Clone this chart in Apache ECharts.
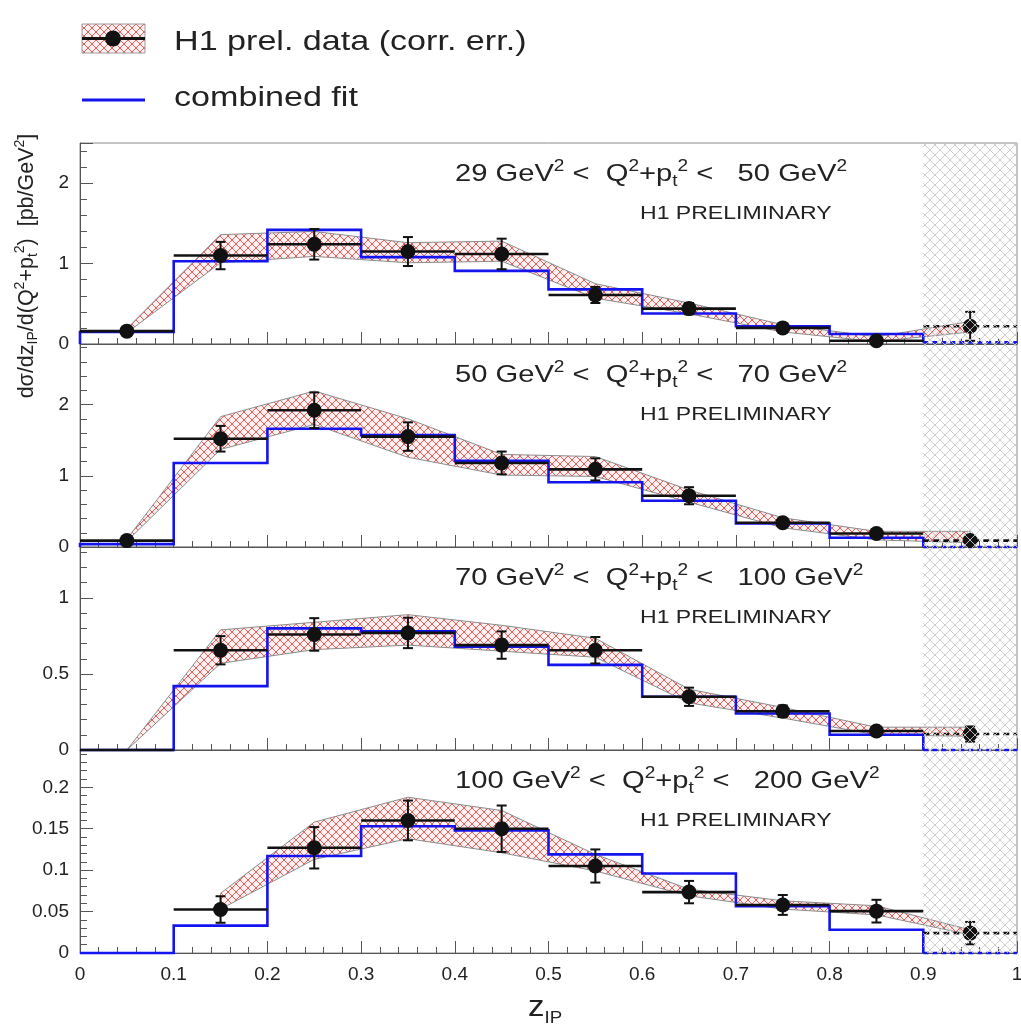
<!DOCTYPE html>
<html><head><meta charset="utf-8">
<script src="https://cdn.jsdelivr.net/npm/echarts@6/dist/echarts.min.js"></script>
<style>html,body{margin:0;padding:0;background:#fff}#c{width:1021px;height:1026px}</style>
</head><body><div id="c"></div>
<script>
// ---------- data ----------
const zBinEdges = [0, 0.1, 0.2, 0.3, 0.4, 0.5, 0.6, 0.7, 0.8, 0.9, 1.0];
const zBinCenters = [0.05, 0.15, 0.25, 0.35, 0.45, 0.55, 0.65, 0.75, 0.85, 0.95];
const excludedRegion = [0.9, 1.0];
const q2Low = ['29', '50', '70', '100'];
const q2High = ['50', '70', '100', '200'];
const yAxisMax = [2.5, 2.85, 1.335, 0.245];
const yAxisInterval = [1, 1, 0.5, 0.05];

const data_29_50   = [0.16, 1.10, 1.24, 1.15, 1.12, 0.61, 0.44, 0.20, 0.04, 0.22];
const err_29_50    = [0.02, 0.17, 0.19, 0.18, 0.19, 0.10, 0.07, 0.03, 0.03, 0.18];
const bandLo_29_50 = [0.14, 1.01, 1.09, 1.01, 1.03, 0.57, 0.375, 0.15, 0.03, 0.15];
const bandHi_29_50 = [0.19, 1.36, 1.40, 1.26, 1.28, 0.75, 0.51, 0.24, 0.09, 0.28];
const fit_29_50    = [0.15, 1.03, 1.42, 1.08, 0.91, 0.68, 0.38, 0.22, 0.125, 0.02];

const data_50_70   = [0.09, 1.52, 1.92, 1.55, 1.18, 1.09, 0.72, 0.34, 0.19, 0.09];
const err_50_70    = [0.02, 0.18, 0.25, 0.20, 0.16, 0.155, 0.12, 0.05, 0.06, 0.04];
const bandLo_50_70 = [0.08, 1.37, 1.72, 1.26, 1.01, 0.99, 0.63, 0.27, 0.10, 0.06];
const bandHi_50_70 = [0.11, 1.83, 2.19, 1.80, 1.30, 1.27, 0.80, 0.41, 0.22, 0.22];
const fit_50_70    = [0.04, 1.18, 1.66, 1.57, 1.21, 0.91, 0.65, 0.33, 0.13, 0.0];

const data_70_100   = [0, 0.656, 0.76, 0.77, 0.69, 0.656, 0.35, 0.255, 0.125, 0.105];
const err_70_100    = [0, 0.093, 0.107, 0.10, 0.09, 0.087, 0.06, 0.038, 0.02, 0.05];
const bandLo_70_100 = [0, 0.57, 0.66, 0.69, 0.65, 0.61, 0.31, 0.21, 0.10, 0.09];
const bandHi_70_100 = [0, 0.79, 0.84, 0.89, 0.82, 0.735, 0.40, 0.28, 0.15, 0.15];
const fit_70_100    = [0, 0.42, 0.80, 0.78, 0.68, 0.56, 0.35, 0.24, 0.10, 0.0];

const data_100_200   = [null, 0.0525, 0.127, 0.160, 0.150, 0.105, 0.0735, 0.058, 0.0505, 0.024];
const err_100_200    = [null, 0.016, 0.025, 0.024, 0.028, 0.020, 0.0135, 0.012, 0.0137, 0.0135];
const bandLo_100_200 = [null, 0.053, 0.113, 0.138, 0.121, 0.099, 0.069, 0.053, 0.046, 0.022];
const bandHi_100_200 = [null, 0.072, 0.158, 0.188, 0.172, 0.119, 0.077, 0.063, 0.057, 0.028];
const fit_100_200    = [0, 0.033, 0.117, 0.153, 0.148, 0.119, 0.096, 0.0566, 0.028, 0.0];

const panels = [
  {data: data_29_50, err: err_29_50, lo: bandLo_29_50, hi: bandHi_29_50, fit: fit_29_50},
  {data: data_50_70, err: err_50_70, lo: bandLo_50_70, hi: bandHi_50_70, fit: fit_50_70},
  {data: data_70_100, err: err_70_100, lo: bandLo_70_100, hi: bandHi_70_100, fit: fit_70_100},
  {data: data_100_200, err: err_100_200, lo: bandLo_100_200, hi: bandHi_100_200, fit: fit_100_200}
];

// ---------- layout / style ----------
const FONT = '"Liberation Sans", Arial, Helvetica, sans-serif';
const BLUE = '#1414ee';
const BLACK = '#111';
const gridTops = [143, 344, 547, 750];
const gridHeights = [201, 203, 203, 203];

function makePattern(size, color, bg, lw) {
  const c = document.createElement('canvas');
  c.width = size; c.height = size;
  const g = c.getContext('2d');
  if (bg) { g.fillStyle = bg; g.fillRect(0, 0, size, size); }
  g.strokeStyle = color; g.lineWidth = lw;
  g.beginPath();
  g.moveTo(-1, -1); g.lineTo(size + 1, size + 1);
  g.moveTo(size + 1, -1); g.lineTo(-1, size + 1);
  g.stroke();
  return {image: c, repeat: 'repeat'};
}
const redHatch = makePattern(8, '#e85c5c', '#fff0f0', 1);
const grayHatch = makePattern(10, '#c9c9c9', null, 0.9);

const grids = [], xAxes = [], yAxes = [], series = [];
panels.forEach((p, i) => {
  const last = i === panels.length - 1;
  grids.push({left: 80, right: 4, top: gridTops[i], height: gridHeights[i],
    show: true, borderColor: '#8a8a8a', borderWidth: 1, backgroundColor: 'transparent',
    containLabel: false, outerBoundsMode: 'none'});
  xAxes.push({type: 'value', gridIndex: i, min: 0, max: 1, interval: 0.1,
    axisLine: {show: true, onZero: false, lineStyle: {color: '#555', width: 1}},
    axisTick: {show: true, inside: true, length: 12, lineStyle: {color: '#555'}},
    minorTick: {show: true, splitNumber: 5, length: 6, lineStyle: {color: '#555'}},
    splitLine: {show: false}, minorSplitLine: {show: false},
    axisLabel: {show: last, fontSize: 19, fontFamily: FONT, color: '#222', margin: 12,
      formatter: v => String(+v.toFixed(1))}
  });
  yAxes.push({type: 'value', gridIndex: i, min: 0, max: yAxisMax[i], interval: yAxisInterval[i],
    axisLine: {show: true, lineStyle: {color: '#555', width: 1}},
    axisTick: {show: true, inside: true, length: 13, lineStyle: {color: '#555'}},
    minorTick: {show: true, splitNumber: 5, length: 7, lineStyle: {color: '#555'}},
    splitLine: {show: false}, minorSplitLine: {show: false},
    axisLabel: {fontSize: 19, fontFamily: FONT, color: '#222', margin: 11, showMaxLabel: false,
      formatter: v => String(+v.toFixed(3))}
  });

  // error band
  series.push({type: 'custom', xAxisIndex: i, yAxisIndex: i, z: 2, data: [[0, 0]], silent: true,
    renderItem: (params, api) => {
      const pts = [];
      for (let k = 0; k < zBinCenters.length; k++) if (p.hi[k] != null) pts.push(api.coord([zBinCenters[k], p.hi[k]]));
      for (let k = zBinCenters.length - 1; k >= 0; k--) if (p.lo[k] != null) pts.push(api.coord([zBinCenters[k], p.lo[k]]));
      return {type: 'polygon', shape: {points: pts}, style: {fill: redHatch, stroke: '#8c8c8c', lineWidth: 1}};
    }});

  // fit histogram
  series.push({type: 'custom', xAxisIndex: i, yAxisIndex: i, z: 3, data: [[0, 0]], silent: true,
    renderItem: (params, api) => {
      const f = p.fit, E = zBinEdges, n = f.length - 1;
      const solid = [api.coord([E[0], 0])];
      for (let k = 0; k < n; k++) { solid.push(api.coord([E[k], f[k]])); solid.push(api.coord([E[k + 1], f[k]])); }
      solid.push(api.coord([E[n], f[n]]));
      const dashed = [api.coord([E[n], f[n]]), api.coord([E[n + 1], f[n]])];
      return {type: 'group', children: [
        {type: 'polyline', shape: {points: solid}, style: {stroke: BLUE, lineWidth: 2.6, fill: null}},
        {type: 'polyline', shape: {points: dashed}, style: {stroke: BLUE, lineWidth: 2.6, lineDash: [5, 4], fill: null}}
      ]};
    }});

  // data points
  const pts = [];
  zBinCenters.forEach((c, k) => { if (p.data[k] != null) pts.push([c, p.data[k], p.err[k], k]); });
  series.push({type: 'custom', xAxisIndex: i, yAxisIndex: i, z: 4, data: pts, silent: true,
    renderItem: (params, api) => {
      const x = api.value(0), v = api.value(1), e = api.value(2), k = api.value(3);
      const l = api.coord([zBinEdges[k], v]), r = api.coord([zBinEdges[k + 1], v]);
      const c = api.coord([x, v]);
      const dash = k === zBinCenters.length - 1 ? [6, 4] : null;
      const ch = [{type: 'line', shape: {x1: l[0], y1: l[1], x2: r[0], y2: r[1]},
        style: {stroke: BLACK, lineWidth: 2.6, lineDash: dash}}];
      if (e > 0) {
        const t = api.coord([x, v + e]), b = api.coord([x, v - e]);
        ch.push({type: 'line', shape: {x1: t[0], y1: t[1], x2: b[0], y2: b[1]}, style: {stroke: BLACK, lineWidth: 2}});
        ch.push({type: 'line', shape: {x1: t[0] - 5, y1: t[1], x2: t[0] + 5, y2: t[1]}, style: {stroke: BLACK, lineWidth: 2}});
        ch.push({type: 'line', shape: {x1: b[0] - 5, y1: b[1], x2: b[0] + 5, y2: b[1]}, style: {stroke: BLACK, lineWidth: 2}});
      }
      if (v > 0) ch.push({type: 'circle', shape: {cx: c[0], cy: c[1], r: 7.5}, style: {fill: BLACK}});
      return {type: 'group', children: ch};
    }});

  // excluded region hatch
  series.push({type: 'custom', xAxisIndex: i, yAxisIndex: i, z: 6, data: [[0, 0]], silent: true,
    renderItem: (params, api) => {
      const a = api.coord([excludedRegion[0], yAxisMax[i]]), b = api.coord([excludedRegion[1], 0]);
      return {type: 'rect', shape: {x: a[0], y: a[1], width: b[0] - a[0], height: b[1] - a[1]},
        style: {fill: grayHatch, stroke: null}};
    }});
});

// ---------- texts ----------
const richBase = (fs, sfs) => ({
  n: {fontSize: fs, fontFamily: FONT, fill: '#222', lineHeight: fs * 1.25},
  sup: {fontSize: sfs, fontFamily: FONT, fill: '#222', verticalAlign: 'top', lineHeight: sfs * 1.05},
  sub: {fontSize: sfs, fontFamily: FONT, fill: '#222', verticalAlign: 'bottom', lineHeight: sfs * 1.0}
});
const graphics = [];
panels.forEach((p, i) => {
  graphics.push({type: 'text', x: 455, y: gridTops[i] + 31, scaleX: 1.19, z: 10,
    style: {text: `{n|${q2Low[i]} GeV}{sup|2}{n| <  Q}{sup|2}{n|+p}{sub|t}{sup|2}{n| <   ${q2High[i]} GeV}{sup|2}`,
      rich: richBase(24.5, 16), verticalAlign: 'middle', align: 'left'}});
  graphics.push({type: 'text', x: 640, y: gridTops[i] + 71, scaleX: 1.28, z: 10,
    style: {text: 'H1 PRELIMINARY', fontSize: 18, fontFamily: FONT, fill: '#222', verticalAlign: 'middle', align: 'left'}});
});
// y title
graphics.push({type: 'text', x: 27, y: 266, rotation: Math.PI / 2, z: 10,
  style: {text: '{n|d\u03c3/dz}{sub|IP}{n|/d(Q}{sup|2}{n|+p}{sub|t}{sup|2}{n|)  [pb/GeV}{sup|2}{n|]}',
    rich: richBase(21.5, 14), align: 'center', verticalAlign: 'middle'}});
// x title
graphics.push({type: 'text', x: 528, y: 1008, z: 10, scaleX: 1.1,
  style: {text: '{n|z}{sub|IP}', rich: richBase(30, 17), align: 'left', verticalAlign: 'middle'}});
// legend
graphics.push({type: 'rect', shape: {x: 82, y: 24, width: 63, height: 29}, z: 10,
  style: {fill: redHatch, stroke: '#9a9a9a', lineWidth: 1}});
graphics.push({type: 'line', shape: {x1: 82, y1: 38.5, x2: 145, y2: 38.5}, z: 11, style: {stroke: BLACK, lineWidth: 3}});
graphics.push({type: 'circle', shape: {cx: 113, cy: 38.5, r: 8}, z: 11, style: {fill: BLACK}});
graphics.push({type: 'text', x: 174, y: 42, scaleX: 1.24, z: 10,
  style: {text: 'H1 prel. data (corr. err.)', fontSize: 27.5, fontFamily: FONT, fill: '#222', verticalAlign: 'middle', align: 'left'}});
graphics.push({type: 'line', shape: {x1: 82, y1: 100, x2: 145, y2: 100}, z: 11, style: {stroke: BLUE, lineWidth: 3}});
graphics.push({type: 'text', x: 174, y: 98, scaleX: 1.24, z: 10,
  style: {text: 'combined fit', fontSize: 27.5, fontFamily: FONT, fill: '#222', verticalAlign: 'middle', align: 'left'}});

const chart = echarts.init(document.getElementById('c'), null, {renderer: 'canvas'});
chart.setOption({
  animation: false,
  backgroundColor: '#fff',
  grid: grids, xAxis: xAxes, yAxis: yAxes, series: series,
  graphic: {elements: graphics}
});
</script>
</body></html>
